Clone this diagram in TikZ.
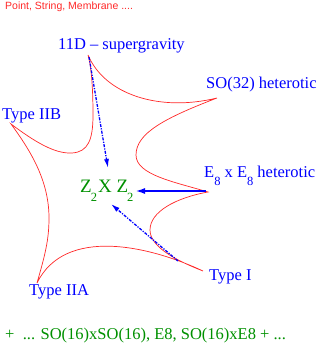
\documentclass[tikz,border=0pt]{standalone}
\usepackage{fontspec}
\setmainfont{Liberation Serif}
\newfontfamily\titlefont{Liberation Sans}
\usetikzlibrary{arrows.meta}
\definecolor{figblue}{RGB}{0,0,255}
\definecolor{figgreen}{RGB}{0,144,0}
\definecolor{figred}{RGB}{255,40,40}
\newcommand\lowsub[2]{\raisebox{-#1}{\fontsize{12.5}{12}\selectfont #2}}
\begin{document}
\begin{tikzpicture}[x=1pt,y=-1pt,
  lbl/.style={inner sep=0pt,anchor=base west,text=figblue,font=\fontsize{16.5}{19}\selectfont},
  grn/.style={inner sep=0pt,anchor=base west,text=figgreen,font=\fontsize{16.5}{19}\selectfont},
  rim/.style={draw=figred,line width=0.7pt},
  dasharrow/.style={draw=figblue,line width=1.3pt,dash pattern=on 3pt off 1.3pt on 1.2pt off 1.3pt,
     -{Latex[length=9pt,width=5pt]}},
  solidarrow/.style={draw=figblue,line width=2pt,-{Latex[length=10pt,width=6pt]}}]
\useasboundingbox (0,0) rectangle (322,347);
% title
\node[inner sep=0pt,anchor=base west,text=figred,font=\titlefont\fontsize{10.5}{12}\selectfont] (title) at (5,10) {Point, String, Membrane ....};
% cusps
\coordinate (pA) at (88,55);
\coordinate (pB) at (217,98);
\coordinate (pC) at (208,192);
\coordinate (pD) at (203,271);
\coordinate (pE) at (37,283);
\coordinate (pF) at (11,124);
% boundary curve
\draw[rim] (pA) .. controls (105,95) and (160,112) .. (pB)
  .. controls (165,118) and (136,133) .. (136,155)
  .. controls (136,175) and (175,182) .. (pC)
  .. controls (175,198) and (150,212) .. (150,230)
  .. controls (150,248) and (180,262) .. (pD)
  .. controls (150,246) and (65,226) .. (pE)
  .. controls (45,255) and (49,240) .. (49,218)
  .. controls (49,180) and (30,150) .. (pF)
  .. controls (35,142) and (55,154) .. (72,153)
  .. controls (88,152) and (93,140) .. (93,115)
  .. controls (93,85) and (91,65) .. (pA);
% labels
\node[lbl] (sugra) at (58,50) {11D – supergravity};
\node[lbl] (so32) at (206,89) {SO(32) heterotic};
\node[lbl] (iib) at (2,120) {Type IIB};
\node[lbl] (e8) at (204,178) {E\lowsub{7pt}{8} x E\lowsub{7pt}{8} heterotic};
\node[lbl] (iia) at (29,295) {Type IIA};
\node[lbl] (ti) at (209,280) {Type I};
\node[grn,font=\fontsize{19}{20}\selectfont] (z2) at (80,192) {Z\kern-1pt\lowsub{9pt}{2}\kern1pt X Z\kern-1pt\lowsub{9pt}{2}};
\node[grn] (extra) at (5,339) {+\ \ ... SO(16)xSO(16), E8, SO(16)xE8 + ...};
% arrows
\coordinate (s1) at (89,57);
\coordinate (t1) at (108,168);
\coordinate (s2) at (206,191);
\coordinate (t2) at (135,191);
\coordinate (s3) at (178,261);
\coordinate (t3) at (111,204);
\draw[dasharrow] (s1) -- (t1);
\draw[solidarrow] (s2) -- (t2);
\draw[dasharrow] (s3) -- (t3);
\end{tikzpicture}
\end{document}
